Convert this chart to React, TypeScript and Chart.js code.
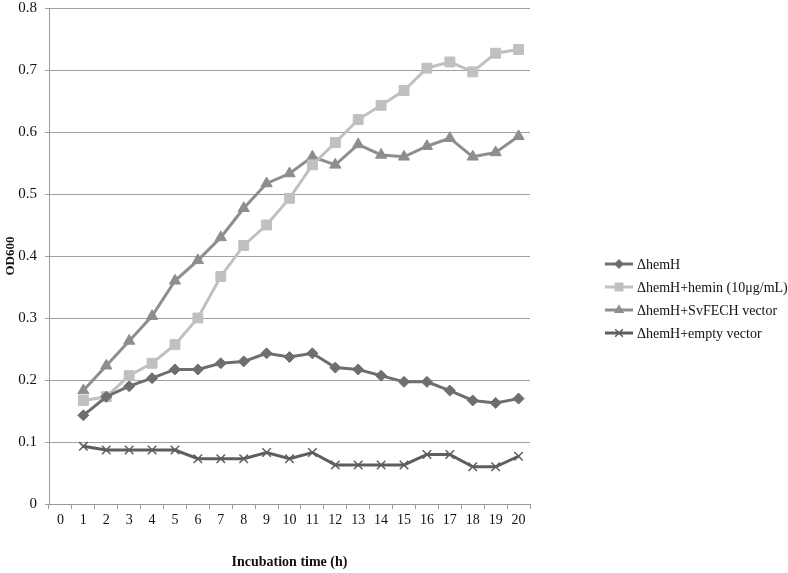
import React, { useEffect, useRef } from "react";
import { Chart, registerables } from "chart.js";

Chart.register(...registerables);

const categories = ["0","1","2","3","4","5","6","7","8","9","10","11","12","13","14","15","16","17","18","19","20"];

const hemH = [null, 0.143, 0.173, 0.19, 0.203, 0.217, 0.217, 0.227, 0.23, 0.243, 0.237, 0.243, 0.22, 0.217, 0.207, 0.197, 0.197, 0.183, 0.167, 0.163, 0.17];
const hemin = [null, 0.167, 0.173, 0.207, 0.227, 0.257, 0.3, 0.367, 0.417, 0.45, 0.493, 0.547, 0.583, 0.62, 0.643, 0.667, 0.703, 0.713, 0.697, 0.727, 0.733];
const svfech = [null, 0.183, 0.223, 0.263, 0.303, 0.36, 0.393, 0.43, 0.477, 0.517, 0.533, 0.56, 0.547, 0.58, 0.563, 0.56, 0.577, 0.59, 0.56, 0.567, 0.593];
const emptyVec = [null, 0.093, 0.087, 0.087, 0.087, 0.087, 0.073, 0.073, 0.073, 0.083, 0.073, 0.083, 0.063, 0.063, 0.063, 0.063, 0.08, 0.08, 0.06, 0.06, 0.077];

const seriesNames = ["\u0394hemH", "\u0394hemH+hemin (10\u03bcg/mL)", "\u0394hemH+SvFECH vector", "\u0394hemH+empty vector"];
const FONT = "'Liberation Serif', 'Times New Roman', serif";

function drawMarker(ctx: CanvasRenderingContext2D, style: string, x: number, y: number, r: number, color: string) {
  ctx.save();
  ctx.fillStyle = color;
  ctx.strokeStyle = color;
  ctx.beginPath();
  if (style === "rectRot") {
    ctx.moveTo(x, y - r); ctx.lineTo(x + r, y); ctx.lineTo(x, y + r); ctx.lineTo(x - r, y); ctx.closePath(); ctx.fill();
  } else if (style === "rect") {
    const s = r * Math.SQRT1_2;
    ctx.rect(x - s, y - s, 2 * s, 2 * s); ctx.fill();
  } else if (style === "triangle") {
    const w = r * Math.sin(Math.PI / 3);
    ctx.moveTo(x, y - r); ctx.lineTo(x + w, y + r / 2); ctx.lineTo(x - w, y + r / 2); ctx.closePath(); ctx.fill();
  } else {
    const s = r * Math.SQRT1_2;
    ctx.lineWidth = 1.5;
    ctx.moveTo(x - s, y - s); ctx.lineTo(x + s, y + s); ctx.moveTo(x + s, y - s); ctx.lineTo(x - s, y + s); ctx.stroke();
  }
  ctx.restore();
}

const legendPlugin = {
  id: "customLegend",
  afterDraw(chart: any) {
    const ctx = chart.ctx;
    const x0 = 605, x1 = 633, tx = 637;
    const ys = [264, 287, 310, 333];
    ctx.save();
    chart.data.datasets.forEach((ds: any, i: number) => {
      const y = ys[i];
      ctx.strokeStyle = ds.borderColor;
      ctx.lineWidth = 3;
      ctx.beginPath();
      ctx.moveTo(x0, y);
      ctx.lineTo(x1, y);
      ctx.stroke();
      drawMarker(ctx, ds.pointStyle, (x0 + x1) / 2, y, ds.pointRadius * 0.9, ds.pointBackgroundColor);
      ctx.fillStyle = "#111";
      ctx.font = "14px " + FONT;
      ctx.textBaseline = "middle";
      ctx.textAlign = "left";
      ctx.fillText(ds.label, tx, y + 1);
    });
    ctx.restore();
  },
};

export default function App() {
  const ref = useRef<HTMLCanvasElement>(null);
  useEffect(() => {
    if (!ref.current) return;
    const mk = (label: string, data: any[], color: string, style: string, r: number, bw = 1) => ({
      label,
      data,
      borderColor: color,
      backgroundColor: color,
      pointBackgroundColor: color,
      pointBorderColor: color,
      pointStyle: style,
      pointRadius: r,
      pointBorderWidth: bw,
      borderWidth: 3,
      tension: 0,
      spanGaps: false,
    });
    const chart = new Chart(ref.current, {
      type: "line",
      data: {
        labels: categories,
        datasets: [
          mk(seriesNames[0], hemH, "#6e6e6e", "rectRot", 5.5),
          mk(seriesNames[1], hemin, "#c0c0c0", "rect", 7),
          mk(seriesNames[2], svfech, "#8e8e8e", "triangle", 6.5),
          mk(seriesNames[3], emptyVec, "#5e5e5e", "crossRot", 6, 1.5),
        ] as any,
      },
      plugins: [legendPlugin],
      options: {
        animation: false,
        responsive: true,
        maintainAspectRatio: false,
        layout: { padding: { left: 0, right: 258, top: 8, bottom: 0 } },
        plugins: { legend: { display: false }, tooltip: { enabled: false } },
        scales: {
          x: {
            type: "category",
            offset: true,
            grid: { display: true, drawOnChartArea: false, drawTicks: true, tickLength: 5, offset: true, color: "#9a9a9a" },
            border: { display: true, color: "#9a9a9a", width: 1 },
            ticks: { color: "#111", font: { family: FONT, size: 14 }, padding: 3, maxRotation: 0, autoSkip: false },
            title: { display: true, text: "Incubation time (h)", color: "#111", font: { family: FONT, size: 14, weight: "bold" }, padding: { top: 0, bottom: 2 } },
            afterFit: (s: any) => { s.height = 69; s.paddingLeft = 0; s.paddingRight = 0; },
          },
          y: {
            min: 0,
            max: 0.8,
            grid: { color: "#a0a0a0", tickLength: 4, drawTicks: true },
            border: { display: true, color: "#9a9a9a", width: 1 },
            ticks: { stepSize: 0.1, color: "#111", font: { family: FONT, size: 15 }, padding: 8 },
            title: { display: true, text: "OD600", color: "#111", font: { family: FONT, size: 13, weight: "bold" }, padding: { top: 3, bottom: 0 } },
            afterFit: (s: any) => { s.width = 49; s.paddingTop = 0; s.paddingBottom = 0; },
          },
        },
      } as any,
    });
    return () => chart.destroy();
  }, []);
  return (
    <div style={{ position: "absolute", left: 0, top: 0, width: 788, height: 573, background: "#fff" }}>
      <canvas ref={ref} />
    </div>
  );
}
